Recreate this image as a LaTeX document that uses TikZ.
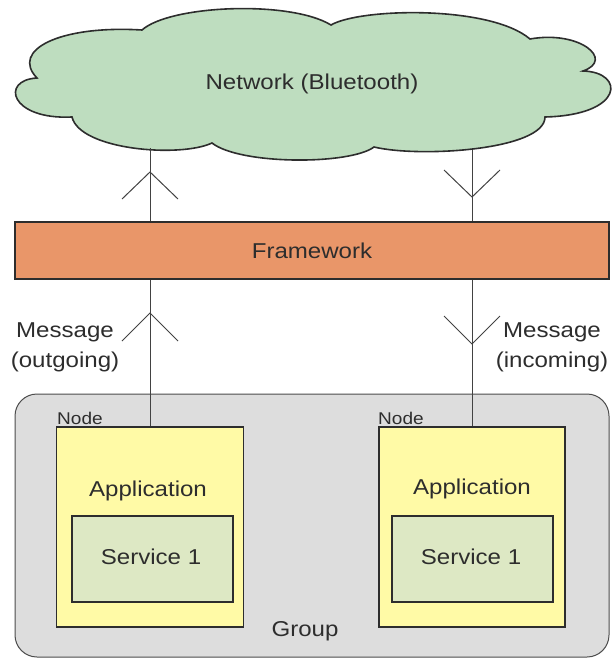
\documentclass[tikz,border=0pt]{standalone}
\usepackage{fontspec}
\setmainfont[FakeStretch=1.12]{Liberation Sans}
\definecolor{netgreen}{RGB}{190,221,191}
\definecolor{fworange}{RGB}{233,150,105}
\definecolor{grpgray}{RGB}{221,221,221}
\definecolor{nodeyellow}{RGB}{255,250,166}
\definecolor{svcgreen}{RGB}{221,232,196}
\definecolor{ink}{RGB}{45,45,45}
\begin{document}
\begin{tikzpicture}[x=1pt,y=-1pt,
  conn/.style={draw=ink!90, line width=1pt},
  chev/.style={draw=ink!90, line width=1pt},
  lbl/.style={font=\fontsize{21.5}{30}\selectfont, text=ink, align=center, inner sep=0pt},
  smalllbl/.style={font=\fontsize{17}{20}\selectfont, text=ink, inner sep=0pt},
  plainbox/.style={draw=ink, line width=1.2pt, inner sep=0pt, rectangle},
]
\useasboundingbox (0,0) rectangle (611,659);

% cloud standing for the network
\draw[draw=ink, line width=1.6pt, fill=netgreen]
  (37,78)   .. controls (10,50)   and (60,25)   .. (142,30)
            .. controls (170,5)   and (290,0)   .. (331,25)
            .. controls (360,8)   and (490,5)   .. (530,39)
            .. controls (580,30)  and (615,60)  .. (583,71)
            .. controls (625,72)  and (625,115) .. (545,117)
            .. controls (545,150) and (420,158) .. (374,147)
            .. controls (350,165) and (240,165) .. (212,143)
            .. controls (180,158) and (80,150)  .. (72,117)
            .. controls (10,120)  and (0,80)    .. cycle;
\node[lbl] (net) at (312,84) {Network (Bluetooth)};
\coordinate (netL) at (150,148);
\coordinate (netR) at (472,150);

% framework bar
\node[plainbox, fill=fworange, minimum width=594pt, minimum height=57pt,
      lbl] (fw) at (312,250.5) {Framework};

% group with its two nodes
\node[plainbox, draw=ink!85, line width=1pt, fill=grpgray, rounded corners=22pt,
      minimum width=594pt, minimum height=263pt] (grp) at (312,525.5) {};
\node[lbl] (grplbl) at (305,631) {Group};

\node[plainbox, fill=nodeyellow, minimum width=187pt, minimum height=200pt] (nodeL) at (150,527) {};
\node[plainbox, fill=nodeyellow, minimum width=186pt, minimum height=200pt] (nodeR) at (472,527) {};
\node[smalllbl, anchor=west] (nodeLlbl) at (57,418) {Node};
\node[smalllbl, anchor=west] (nodeRlbl) at (378,418) {Node};

\node[lbl] (appL) at (148,491) {Application};
\node[lbl] (appR) at (472,489) {Application};

\node[plainbox, fill=svcgreen, minimum width=161pt, minimum height=86pt] (svcL) at (152.5,559) {};
\node[plainbox, fill=svcgreen, minimum width=161pt, minimum height=86pt] (svcR) at (472.5,559) {};
\node[lbl] (svcLlbl) at (151,557) {Service 1};
\node[lbl] (svcRlbl) at (471,557) {Service 1};

% message paths
\draw[conn] (netL) -- (netL |- fw.north);
\draw[conn] (netR) -- (netR |- fw.north);
\draw[conn] (nodeL.north |- fw.south) -- (nodeL.north);
\draw[conn] (nodeR.north |- fw.south) -- (nodeR.north);

% open chevrons showing direction
\coordinate (upTop) at (150,172);
\coordinate (dnTop) at (472,197);
\coordinate (upLow) at (150,313);
\coordinate (dnLow) at (472,344);
\draw[chev] (upTop) ++(-28,27) -- (upTop) -- ++(28,27);
\draw[chev] (dnTop) ++(-28,-27) -- (dnTop) -- ++(28,-27);
\draw[chev] (upLow) ++(-28,28) -- (upLow) -- ++(28,28);
\draw[chev] (dnLow) ++(-28,-28) -- (dnLow) -- ++(28,-28);

\node[lbl] (msgOut) at (65,347) {Message\\(outgoing)};
\node[lbl] (msgIn) at (552,347) {Message\\(incoming)};
\end{tikzpicture}
\end{document}
